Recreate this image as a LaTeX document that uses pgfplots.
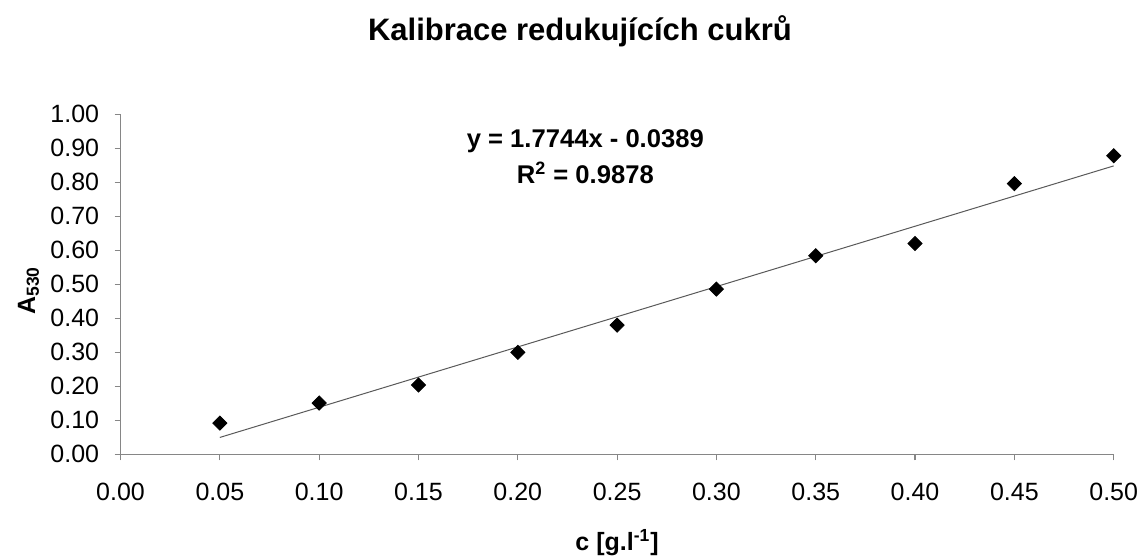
\documentclass[border=0pt]{standalone}
\usepackage{pgfplots}
\pgfplotsset{compat=1.18}
\usepackage{fontspec}
\setmainfont{Liberation Sans}
\usetikzlibrary{calc}
\definecolor{axgray}{RGB}{134,134,134}
\begin{document}
\begin{tikzpicture}
\useasboundingbox (-60.25pt,-50.85pt) rectangle (511.15pt,227.15pt);
\begin{axis}[
  at={(0pt,0pt)}, anchor=south west,
  scale only axis, width=496.5pt, height=170pt,
  xmin=0, xmax=0.5, ymin=0, ymax=1,
  axis x line*=bottom, axis y line*=left,
  axis line style={axgray, line width=0.6pt, -},
  xtick={0,0.05,...,0.5001}, ytick={0,0.1,...,1.0001},
  tick style={axgray, line width=0.6pt},
  tick align=outside, major tick length=3pt,
  /pgf/number format/assume math mode=true,
  /pgf/number format/fixed,
  /pgf/number format/fixed zerofill,
  /pgf/number format/precision=2,
  ticklabel style={font=\fontsize{12.5pt}{14pt}\selectfont, text=black},
  xticklabel style={anchor=base, yshift=-20pt},
  yticklabel style={anchor=east, inner sep=0pt, xshift=-7.5pt},
  clip=false,
]
\addplot[color=gray!70!black, line width=0.5pt] coordinates {(0.05,0.0498) (0.5,0.8483)};
\addplot[only marks, mark=square*, mark size=2.5pt, mark options={rotate=45, fill=black, draw=black}] coordinates {
(0.05,0.092) (0.10,0.151) (0.15,0.204) (0.20,0.300) (0.25,0.380)
(0.30,0.486) (0.35,0.584) (0.40,0.620) (0.45,0.796) (0.50,0.878)};
\node[font=\bfseries\fontsize{12.8pt}{18pt}\selectfont, align=center, anchor=base] at (rel axis cs:0.468,1) [yshift=-34.5pt]
  {y = 1.7744x - 0.0389\\R\textsuperscript{2} = 0.9878};
\node[font=\bfseries\fontsize{15.5pt}{18pt}\selectfont, anchor=base] at (rel axis cs:0.4626,1) [yshift=37pt] {Kalibrace redukujících cukrů};
\node[font=\bfseries\fontsize{12.5pt}{14pt}\selectfont, anchor=base] at (rel axis cs:0.5,0) [yshift=-48pt] {c [g.l\textsuperscript{-1}]};
\node[font=\bfseries\fontsize{12.5pt}{14pt}\selectfont, rotate=90] at ($(rel axis cs:0,0.482)+(-46pt,0)$) {A\textsubscript{530}};
\end{axis}
\end{tikzpicture}
\end{document}
